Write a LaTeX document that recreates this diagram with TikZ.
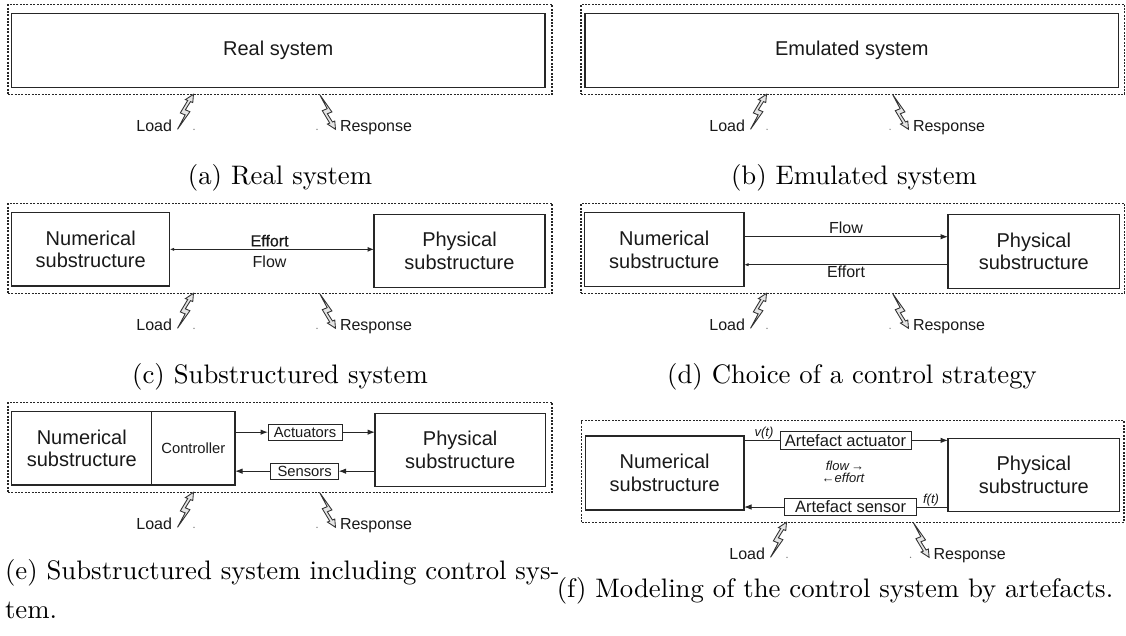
\documentclass[tikz,border=0pt]{standalone}
\usepackage{fontspec}
\newfontfamily\diag{Liberation Sans}
\newfontfamily\diagfb{Liberation Sans}[FakeBold=0.7]
\usetikzlibrary{arrows.meta,calc}
\newcommand\loadresp[4]{%
  \node[lbl, anchor=base east] (#1load) at (#2,#4+37.3) {Load};
  \node[lbl, anchor=base west] (#1resp) at (#3,#4+37.3) {Response};
  \draw[boltst, shift={(#2+5.5,#4+35)}] (0,0) -- (12.41,-17.61) -- (7.82,-19.48) -- (12.98,-27.68) -- (15.27,-26.73) -- (16,-35) -- (7.93,-29.74) -- (10.23,-28.81) -- (2.80,-16.38) -- (7.67,-14.39) -- cycle;
  \draw[boltst, shift={(#3-20.5,#4)}, yscale=-1] (0,0) -- (12.41,-17.61) -- (7.82,-19.48) -- (12.98,-27.68) -- (15.27,-26.73) -- (16,-35) -- (7.93,-29.74) -- (10.23,-28.81) -- (2.80,-16.38) -- (7.67,-14.39) -- cycle;
  \fill[dotst] (#2+22,#4+35) circle (0.7);
  \fill[dotst] (#3-23,#4+35) circle (0.7);
}
\begin{document}
\begin{tikzpicture}[x=0.4pt,y=-0.4pt,
  every node/.style={inner sep=0pt, outer sep=0pt, text=black!90},
  frame/.style={draw=black!85, line width=0.45pt, dash pattern=on 0.8pt off 0.55pt},
  blk/.style={draw=black!85, line width=0.45pt, align=center, font=\diag\fontsize{8}{9}\selectfont},
  sblk/.style={draw=black!85, line width=0.4pt, font=\diag\fontsize{5.9}{7}\selectfont},
  ablk/.style={draw=black!85, line width=0.4pt, font=\diag\fontsize{6.6}{7.5}\selectfont},
  lbl/.style={font=\diag\fontsize{6.4}{7.5}\selectfont},
  ilbl/.style={font=\diag\itshape\fontsize{5.2}{6}\selectfont},
  capt/.style={font=\fontsize{10.7}{16}\selectfont, text=black},
  boltst/.style={draw=black!80, fill=black!10, line width=0.35pt, line join=miter},
  dotst/.style={black!55},
  conn/.style={draw=black!85, line width=0.4pt},
  arr/.style={conn, -{Latex[length=3pt,width=2.2pt]}},
  sarr/.style={conn, -{Latex[length=1.8pt,width=1.3pt]}}
]
\useasboundingbox (0,0) rectangle (1126,635);

% ---------- (a) ----------
\node[frame, minimum width=217.6pt, minimum height=36pt] (aframe) at (280,49.3) {};
\node[blk, minimum width=213.44pt, minimum height=29.6pt] (areal) at (278.2,50.3) {Real system};
\loadresp{a}{172}{340}{94.3}
\node[capt, anchor=base] (acap) at (280,184.5) {(a) Real system};

% ---------- (b) ----------
\node[frame, minimum width=217.4pt, minimum height=36pt] (bframe) at (852.75,49.3) {};
\node[blk, minimum width=213.4pt, minimum height=29.6pt] (bemu) at (851.75,50.3) {Emulated system};
\loadresp{b}{745}{913}{94.3}
\node[capt, anchor=base] (bcap) at (854,184.5) {(b) Emulated system};

% ---------- (c) ----------
\node[frame, minimum width=217.6pt, minimum height=36pt] (cframe) at (280,248.3) {};
\node[blk, minimum width=63.12pt, minimum height=29.32pt] (cnum) at (90.7,249.35) {Numerical\\substructure};
\node[blk, minimum width=68.4pt, minimum height=29.36pt] (cphy) at (459.5,251) {Physical\\substructure};
\draw[conn, {Latex[length=1.8pt,width=1.3pt]}-{Latex[length=2.6pt,width=2pt]}] (cnum.east) -- (cnum.east -| cphy.west);
\node[lbl, font=\diagfb\fontsize{6.4}{7.5}\selectfont] (ceff) at (269.6,240.7) {Effort};
\node[lbl] (cflow) at (269.6,261.7) {Flow};
\loadresp{c}{172}{340}{293.3}
\node[capt, anchor=base] (ccap) at (280,383.5) {(c) Substructured system};

% ---------- (d) ----------
\node[frame, minimum width=217.4pt, minimum height=36pt] (dframe) at (852.75,248.3) {};
\node[blk, minimum width=63.8pt, minimum height=29.6pt] (dnum) at (664.25,249.7) {Numerical\\substructure};
\node[blk, minimum width=68.64pt, minimum height=29.6pt] (dphy) at (1033.8,251.3) {Physical\\substructure};
\coordinate (dfl) at ([yshift=5.2pt]dnum.east);
\coordinate (def) at ([yshift=-6pt]dnum.east);
\draw[arr] (dfl) -- (dfl -| dphy.west);
\draw[sarr] (def -| dphy.west) -- (def);
\node[lbl] (dflow) at (846,227.7) {Flow};
\node[lbl] (deff) at (846,271.7) {Effort};
\loadresp{d}{745}{913}{293.3}
\node[capt, anchor=base] (dcap) at (852,383.5) {(d) Choice of a control strategy};

% ---------- (e) ----------
\node[frame, minimum width=217.6pt, minimum height=36pt] (eframe) at (280,447.3) {};
\node[blk, minimum width=56pt, minimum height=29.32pt] (enum) at (81.8,448.35) {Numerical\\substructure};
\node[blk, font=\diag\fontsize{5.9}{7}\selectfont, minimum width=33.28pt, minimum height=29.32pt] (ectl) at (193.4,448.35) {Controller};
\node[sblk, minimum width=29.6pt, minimum height=6.28pt] (eact) at (305,432.15) {Actuators};
\node[sblk, minimum width=27.16pt, minimum height=6.28pt] (esen) at (304.65,471.15) {Sensors};
\node[blk, minimum width=68.16pt, minimum height=29.36pt] (ephy) at (460.2,450) {Physical\\substructure};
\draw[arr] (ectl.east |- eact.west) -- (eact.west);
\draw[arr] (eact.east) -- (eact.east -| ephy.west);
\draw[arr] (esen.east -| ephy.west) -- (esen.east);
\draw[arr] (esen.west) -- (esen.west -| ectl.east);
\loadresp{e}{172}{340}{492.3}
\node[capt, anchor=base west] (ecap1) at (5,579) {(e) Substructured system including control sys-};
\node[capt, anchor=base west] (ecap2) at (5,618) {tem.};

% ---------- (f) ----------
\node[frame, minimum width=216.92pt, minimum height=40.64pt] (fframe) at (852.85,471.5) {};
\node[blk, minimum width=63.48pt, minimum height=29.6pt] (fnum) at (664.65,473) {Numerical\\substructure};
\node[blk, minimum width=68.64pt, minimum height=29.36pt] (fphy) at (1033.8,475) {Physical\\substructure};
\node[ablk, minimum width=52.4pt, minimum height=6.92pt] (fact) at (845.5,440.35) {Artefact actuator};
\node[ablk, minimum width=52.88pt, minimum height=6.96pt] (fsen) at (850.6,507) {Artefact sensor};
\draw[conn] (fact.west -| fnum.east) -- (fact.west);
\draw[arr] (fact.east) -- (fact.east -| fphy.west);
\draw[conn] (fsen.east -| fphy.west) -- (fsen.east);
\draw[arr] (fsen.west) -- (fsen.west -| fnum.east);
\node[ilbl] (fv) at (764,432.7) {v(t)};
\node[ilbl] (ff) at (931,500) {f(t)};
\node[ilbl] (fflow) at (845,465.7) {flow\,→};
\node[ilbl] (feff) at (843,478.3) {←effort};
\loadresp{f}{765}{933.6}{522.3}
\node[capt, anchor=base] (fcap) at (835,597) {(f) Modeling of the control system by artefacts.};
\end{tikzpicture}
\end{document}
